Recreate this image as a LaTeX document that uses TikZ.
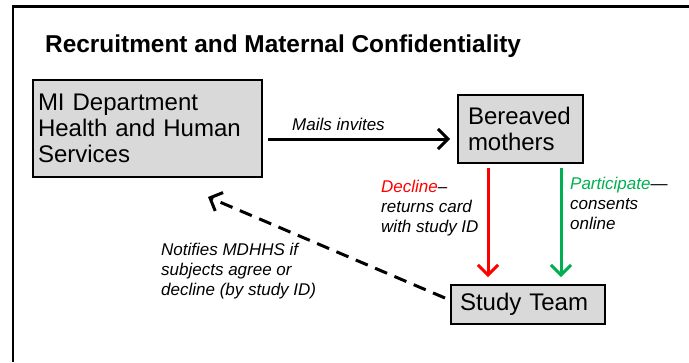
\documentclass[tikz,border=0pt]{standalone}
\usepackage{fontspec}
\setmainfont{Liberation Sans}
\usetikzlibrary{arrows.meta,calc}
\definecolor{boxgray}{HTML}{D9D9D9}
\definecolor{declred}{HTML}{FF0000}
\definecolor{partgreen}{HTML}{00B050}
\begin{document}
\begin{tikzpicture}[x=1pt,y=-1pt,
  box/.style={draw=black, line width=2pt, fill=boxgray, inner sep=0pt, align=left,
    font=\fontsize{24}{26}\selectfont},
  lbl/.style={inner sep=0pt, anchor=base west, align=left,
    font=\itshape\fontsize{17}{20}\selectfont},
  arr/.style={line width=3pt, -{Straight Barb[length=10pt,width=20pt]}},
  frame/.style={line width=2.7pt}
]
\useasboundingbox (0,0) rectangle (689,362);
\draw[frame] (13,362) -- (13,6.5) -- (689,6.5);

\node[anchor=base west, inner sep=0pt, font=\bfseries\fontsize{24.4}{28}\selectfont] (title) at (45,52)
  {Recruitment and Maternal Confidentiality};

\node[box, minimum width=229pt, minimum height=97pt, text width=219pt] (mi) at (147.5,128.5)
  {MI Department\\Health and Human\\Services};
\node[box, minimum width=125pt, minimum height=68pt, text width=105pt] (bm) at (520.5,129)
  {Bereaved\\mothers};
\node[box, minimum width=154pt, minimum height=39pt, text width=136pt] (st) at (528,304.5)
  {Study Team};

\node[lbl] (ml) at (292,130) {Mails invites};
\node[lbl] (dl) at (381,232) {\textcolor{declred}{Decline}–\\returns card\\with study ID};
\node[lbl] (pl) at (570,229) {\textcolor{partgreen}{Participate}—\\consents\\online};
\node[lbl] (nl) at (161,295) {Notifies MDHHS if\\subjects agree or\\decline (by study ID)};

\draw[arr] ($(mi.east)+(5,10.5)$) -- ($(bm.west)+(-7,10)$);
\draw[arr, draw=declred] ($(bm.south)+(-32.5,4)$) -- ($(st.north)+(-40,-7)$);
\draw[arr, draw=partgreen] ($(bm.south)+(40.5,4)$) -- ($(st.north)+(33,-7)$);
\draw[arr, dash pattern=on 13pt off 8pt] ($(st.west)+(-5,-6.5)$) -- ($(mi.south east)+(-55,19)$);
\end{tikzpicture}
\end{document}
